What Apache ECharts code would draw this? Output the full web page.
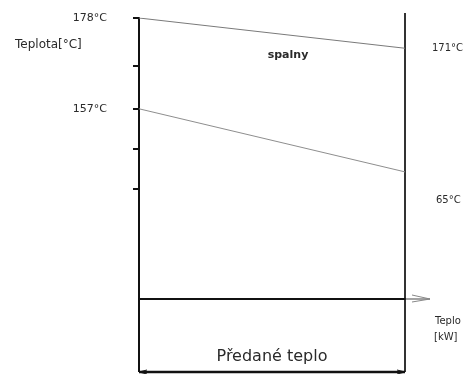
<!DOCTYPE html>
<html>
<head>
<meta charset="utf-8">
<script src="https://cdn.jsdelivr.net/npm/echarts@6/dist/echarts.min.js"></script>
<style>
  html, body { margin: 0; padding: 0; background: #fff; }
  #chart { width: 470px; height: 374px; }
</style>
</head>
<body>
<div id="chart"></div>
<script>
// Heat share along the exchanger (0 = inlet side, 1 = end of transferred heat)
const heatShare = [0, 1];
// Flue gas ("spalny") temperature along the exchanger, °C
const fluegasTemp = [178, 171];
// Heated medium temperature along the exchanger, °C
const mediumTemp = [157, 142.4];
// Tick marks on the temperature axis and the ones that carry a label
const tickTemps = [178, 166.9, 157, 147.7, 138.4];
const labelTemps = [178, 157];
// Text annotations
const yAxisTitle = 'Teplota[°C]';
const xAxisTitle = ['Teplo', '[kW]'];
const fluegasName = 'spalny';
const outletLabel = '65°C';
const transferLabel = 'Předané teplo';

const FONT = '"DejaVu Sans", "Liberation Sans", sans-serif';
const TEXT_COLOR = '#2a2a2a';

const chart = echarts.init(document.getElementById('chart'), null, { renderer: 'canvas' });

const toPairs = (xs, ys) => xs.map((x, i) => [x, ys[i]]);

chart.setOption({
  animation: false,
  backgroundColor: '#fff',
  grid: { left: 139, right: 65, top: 18, bottom: 75 },
  xAxis: {
    type: 'value',
    min: 0,
    max: 1,
    axisLine: { show: true, lineStyle: { color: '#111', width: 2 } },
    axisTick: { show: false },
    axisLabel: { show: false },
    splitLine: { show: false }
  },
  yAxis: {
    type: 'value',
    min: 113,
    max: 178,
    axisLine: { show: true, lineStyle: { color: '#111', width: 2 } },
    axisTick: {
      show: true,
      inside: false,
      length: 6,
      customValues: tickTemps,
      lineStyle: { color: '#111', width: 2 }
    },
    axisLabel: {
      show: true,
      customValues: labelTemps,
      margin: 32,
      formatter: v => v + '°C',
      color: TEXT_COLOR,
      fontFamily: FONT,
      fontSize: 11
    },
    splitLine: { show: false }
  },
  series: [
    {
      name: fluegasName,
      type: 'line',
      data: toPairs(heatShare, fluegasTemp),
      symbol: 'none',
      lineStyle: { color: '#7a7a7a', width: 1 },
      endLabel: {
        show: true,
        distance: 27,
        formatter: p => p.value[1] + '°C',
        color: TEXT_COLOR,
        fontFamily: FONT,
        fontSize: 10
      }
    },
    {
      name: 'medium',
      type: 'line',
      data: toPairs(heatShare, mediumTemp),
      symbol: 'none',
      lineStyle: { color: '#8e8e8e', width: 1 }
    }
  ]
});

// Dimension lines and annotations anchored to the axis positions
const pL = chart.convertToPixel({ gridIndex: 0 }, [heatShare[0], 113]);
const pR = chart.convertToPixel({ gridIndex: 0 }, [heatShare[1], 113]);
const xL = pL[0], xR = pR[0], yB = pL[1];
const dimY = 372;

const txt = (text, x, y, opts) => ({
  type: 'text',
  x, y,
  style: Object.assign({
    text,
    fill: TEXT_COLOR,
    font: '11px ' + FONT,
    textAlign: 'left',
    textVerticalAlign: 'middle'
  }, opts || {})
});

chart.setOption({
  graphic: [
    // right boundary line
    { type: 'line', shape: { x1: xR, y1: 13, x2: xR, y2: dimY }, style: { stroke: '#333', lineWidth: 2 } },
    // left extension below the heat axis
    { type: 'line', shape: { x1: xL, y1: yB, x2: xL, y2: dimY }, style: { stroke: '#111', lineWidth: 2 } },
    // transferred heat dimension line
    { type: 'line', shape: { x1: xL, y1: dimY, x2: xR, y2: dimY }, style: { stroke: '#111', lineWidth: 2.5 } },
    { type: 'polyline', shape: { points: [[xL + 8, dimY - 2], [xL, dimY], [xL + 8, dimY + 2]] }, style: { stroke: '#111', lineWidth: 1, fill: null } },
    { type: 'polyline', shape: { points: [[xR - 8, dimY - 2], [xR, dimY], [xR - 8, dimY + 2]] }, style: { stroke: '#111', lineWidth: 1, fill: null } },
    // heat axis arrow tip
    { type: 'line', shape: { x1: xR, y1: yB, x2: xR + 25, y2: yB }, style: { stroke: '#666', lineWidth: 1.2 } },
    { type: 'polyline', shape: { points: [[xR + 7, yB - 4], [xR + 25, yB], [xR + 7, yB + 3]] }, style: { stroke: '#888', lineWidth: 1, fill: null } },
    // texts
    txt(yAxisTitle, 15, 45, { font: '12px ' + FONT }),
    txt(fluegasName, 288, 55, { textAlign: 'center', font: 'bold 11px ' + FONT }),
    txt(outletLabel, 436, 200, { font: '10px ' + FONT }),
    txt(xAxisTitle[0], 435, 321, { font: '10px ' + FONT }),
    txt(xAxisTitle[1], 434, 337, { font: '10px ' + FONT }),
    txt(transferLabel, 272, 357, { textAlign: 'center', font: '16px ' + FONT })
  ]
});
</script>
</body>
</html>
